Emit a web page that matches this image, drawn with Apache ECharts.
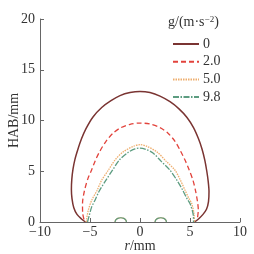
<!DOCTYPE html>
<html>
<head>
<meta charset="utf-8">
<script src="https://cdn.jsdelivr.net/npm/echarts@6/dist/echarts.min.js"></script>
<style>html,body{margin:0;padding:0;background:#fff;}#c{width:254px;height:254px;}</style>
</head>
<body>
<div id="c"></div>
<script>
var seriesNames = ['0', '2.0', '5.0', '9.8'];
var xTicks = [-10, -5, 0, 5, 10];
var yTicks = [0, 5, 10, 15, 20];

var g0 = [[-5.45,0],[-5.85,0.3],[-6.3,0.75],[-6.62,1.4],[-6.8,2.3],[-6.86,3.2],[-6.82,4.2],[-6.7,5.2],[-6.5,6.2],[-6.2,7.2],[-5.85,8.2],[-5.4,9.2],[-4.7,10.35],[-3.8,11.3],[-2.9,11.95],[-2.0,12.45],[-1.0,12.75],[0,12.86],[1.0,12.75],[2.0,12.4],[3.0,11.85],[3.9,11.15],[4.7,10.3],[5.35,9.3],[5.85,8.2],[6.2,7.2],[6.48,6.1],[6.68,5.0],[6.82,4.0],[6.9,3.0],[6.85,2.0],[6.65,1.25],[6.3,0.75],[5.85,0.3],[5.45,0]];
var g2 = [[-5.6,0.25],[-5.73,0.85],[-5.75,1.8],[-5.55,3.1],[-5.2,4.3],[-4.85,5.1],[-4.45,6.1],[-4.0,7.0],[-3.4,7.95],[-2.7,8.75],[-2.0,9.25],[-1.0,9.63],[0,9.75],[1.0,9.65],[2.0,9.3],[2.8,8.75],[3.5,7.95],[4.05,7.0],[4.5,6.1],[4.93,5.1],[5.3,4.1],[5.55,3.1],[5.75,2.0],[5.83,1.2],[5.75,0.4]];
var g5 = [[-5.35,0],[-5.33,0.33],[-5.17,1.16],[-4.83,2.15],[-4.3,3.1],[-3.83,4.13],[-3.17,5.1],[-2.5,6.1],[-1.7,6.9],[-0.67,7.45],[0,7.62],[0.7,7.45],[1.7,6.9],[2.6,6.0],[3.5,5.1],[4.05,4.1],[4.5,3.14],[4.9,2.3],[5.17,1.82],[5.4,0.83],[5.45,0]];
var g98 = [[-5.25,0],[-5.07,0.66],[-4.83,1.49],[-4.5,2.15],[-4.1,3.0],[-3.4,4.13],[-2.75,5.1],[-2.07,6.1],[-1.2,6.85],[-0.5,7.2],[0,7.28],[0.6,7.15],[1.3,6.8],[2.1,6.0],[3.0,5.1],[3.7,4.1],[4.27,3.14],[4.7,2.3],[5.0,1.82],[5.33,0.66],[5.35,0]];
var bumpL = [[-2.5,0],[-2.42,0.2],[-2.22,0.36],[-1.92,0.42],[-1.62,0.36],[-1.43,0.2],[-1.35,0]];
var bumpR = [[1.5,0],[1.58,0.2],[1.78,0.36],[2.08,0.42],[2.38,0.36],[2.57,0.2],[2.65,0]];

var colors = ['#7a3432', '#e2433c', '#eeae6e', '#5c9c80'];
var dashes = ['solid', [5, 3], [1.5, 1], [6, 1.5, 1.5, 1.5]];
var widths = [1.5, 1.3, 1.3, 1.3];
var datas = [g0, g2, g5, g98];

var FONT = '"Liberation Serif", "Times New Roman", serif';
var FS = 14;
var series = [];
for (var i = 0; i < 4; i++) {
  series.push({
    name: seriesNames[i], type: 'line', data: datas[i], smooth: 0.3,
    symbol: 'none', color: colors[i],
    lineStyle: {color: colors[i], width: widths[i], type: dashes[i]}
  });
}
[bumpL, bumpR].forEach(function (b) {
  [2, 3].forEach(function (k) {
    series.push({
      name: 'bump' + k, type: 'line', data: b, smooth: 0.4, symbol: 'none',
      lineStyle: {color: colors[k], width: 1.2, type: 'solid'}, silent: true
    });
  });
});

var chart = echarts.init(document.getElementById('c'), null, {renderer: 'canvas'});
chart.setOption({
  animation: false,
  backgroundColor: '#fff',
  grid: {left: 40, right: 14, top: 19, bottom: 32, containLabel: false, outerBoundsMode: 'none'},
  graphic: [{
    type: 'text', left: 168, top: 15,
    style: {
      text: '{a|g/(m·s}{s|−2}{a|)}',
      rich: {
        a: {fontFamily: FONT, fontSize: FS, fill: '#333'},
        s: {fontFamily: FONT, fontSize: 9, fill: '#333', verticalAlign: 'top', padding: [0, 0, 6, 0]}
      }
    }
  }],
  legend: {
    data: seriesNames, orient: 'vertical', left: 167, top: 32,
    itemWidth: 26, itemHeight: 10, itemGap: 3.7,
    itemStyle: {opacity: 0},
    textStyle: {fontFamily: FONT, fontSize: FS, color: '#333', padding: [0, 0, 0, -1]}
  },
  xAxis: {
    type: 'value', min: -10, max: 10, interval: 5,
    name: '{i|r}{n|/mm}', nameLocation: 'middle', nameGap: 17, nameMoveOverlap: false,
    nameTextStyle: {rich: {
      i: {fontFamily: FONT, fontSize: FS, fontStyle: 'italic', color: '#333'},
      n: {fontFamily: FONT, fontSize: FS, color: '#333'}
    }},
    axisLine: {onZero: false, lineStyle: {color: '#666', width: 1}},
    axisTick: {inside: true, length: 4, lineStyle: {color: '#666'}},
    axisLabel: {fontFamily: FONT, fontSize: FS, color: '#333', margin: 3,
      formatter: function (v) { return xTicks.indexOf(v) >= 0 ? (v < 0 ? '−' + (-v) : String(v)) : ''; }},
    splitLine: {show: false}
  },
  yAxis: {
    type: 'value', min: 0, max: 20, interval: 5,
    name: 'HAB/mm', nameLocation: 'middle', nameGap: 19, nameMoveOverlap: false,
    nameTextStyle: {fontFamily: FONT, fontSize: FS, color: '#333'},
    axisLine: {show: true, onZero: false, lineStyle: {color: '#666', width: 1}},
    axisTick: {show: true, inside: true, length: 4, lineStyle: {color: '#666'}},
    axisLabel: {fontFamily: FONT, fontSize: FS, color: '#333', margin: 5,
      formatter: function (v) { return yTicks.indexOf(v) >= 0 ? String(v) : ''; }},
    splitLine: {show: false}
  },
  series: series
});
</script>
</body>
</html>
